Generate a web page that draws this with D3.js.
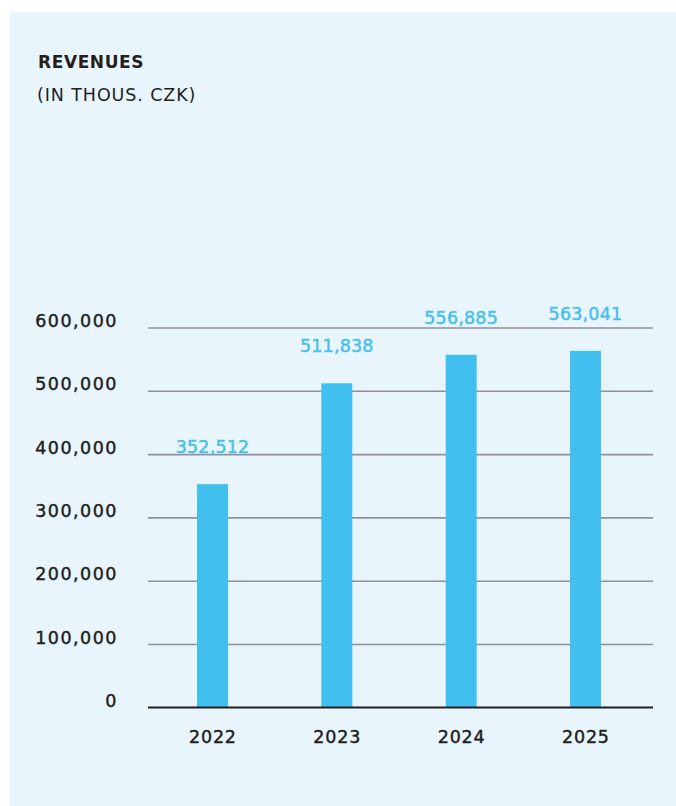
<!DOCTYPE html>
<html>
<head>
<meta charset="utf-8">
<script src="https://cdn.jsdelivr.net/npm/d3@7/dist/d3.min.js"></script>
<style>
  html, body { margin: 0; padding: 0; background: #ffffff; }
  svg { display: block; }
</style>
</head>
<body>
<svg id="chart" width="676" height="806"></svg>
<script>
// Revenues by year, thousands of CZK
const years = ["2022", "2023", "2024", "2025"];
const revenues = [352512, 511838, 556885, 563041];
const yTicks = [0, 100000, 200000, 300000, 400000, 500000, 600000];
const titleText = "REVENUES";
const subtitleText = "(IN THOUS. CZK)";

const W = 676, H = 806;
const plot = { left: 148, right: 653, top: 327.5, bottom: 707.3 };
const font = "'DejaVu Sans', sans-serif";
const barColor = "#41bfee";
const textColor = "#231f20";
const fmt = d3.format(",");

const svg = d3.select("#chart");

// panel background
svg.append("rect")
  .attr("x", 10).attr("y", 12)
  .attr("width", W - 10).attr("height", H - 12)
  .attr("fill", "#e9f5fd");

// heading
svg.append("text")
  .attr("x", 38).attr("y", 67.5)
  .attr("font-family", font).attr("font-weight", "bold")
  .attr("font-size", 17).attr("letter-spacing", 0.6)
  .attr("fill", textColor)
  .text(titleText);
svg.append("text")
  .attr("x", 37).attr("y", 100.5)
  .attr("font-family", font)
  .attr("font-size", 17.5).attr("letter-spacing", 0.9)
  .attr("fill", textColor)
  .text(subtitleText);

const x = d3.scaleBand()
  .domain(years)
  .range([plot.left - 1.5, plot.right - 1.5])
  .paddingInner(0.7507)
  .paddingOuter(0.4064);

const y = d3.scaleLinear()
  .domain([0, 600000])
  .range([plot.bottom, plot.top]);

// horizontal gridlines with value labels
const yAxis = d3.axisLeft(y)
  .tickValues(yTicks)
  .tickFormat(fmt)
  .tickSize(-(plot.right - plot.left))
  .tickPadding(30);

const gy = svg.append("g")
  .attr("transform", `translate(${plot.left},0)`)
  .call(yAxis);
gy.select(".domain").remove();
gy.selectAll(".tick line")
  .attr("stroke", d => d === 0 ? "#231f20" : "#8f9297")
  .attr("stroke-width", 1.6);
gy.selectAll(".tick text")
  .attr("font-family", font)
  .attr("font-size", 17.5)
  .attr("letter-spacing", 1.5)
  .attr("fill", textColor)
  .attr("stroke", textColor)
  .attr("stroke-width", 0.45)
  .attr("dy", "-0.05em");

// bars
svg.append("g").selectAll("rect")
  .data(revenues)
  .join("rect")
  .attr("x", (d, i) => x(years[i]))
  .attr("width", x.bandwidth())
  .attr("y", d => y(d))
  .attr("height", d => y(0) - y(d))
  .attr("fill", barColor);

// redraw baseline over bars
svg.append("line")
  .attr("x1", plot.left).attr("x2", plot.right)
  .attr("y1", y(0)).attr("y2", y(0))
  .attr("stroke", "#231f20").attr("stroke-width", 1.6);

// value labels above bars
svg.append("g").selectAll("text")
  .data(revenues)
  .join("text")
  .attr("x", (d, i) => x(years[i]) + x.bandwidth() / 2)
  .attr("y", d => y(d) - 31)
  .attr("text-anchor", "middle")
  .attr("font-family", font)
  .attr("font-size", 17.5)
  .attr("letter-spacing", 0.2)
  .attr("fill", "#45c0ef")
  .attr("stroke", "#45c0ef")
  .attr("stroke-width", 0.45)
  .text(d => fmt(d));

// year labels
const xAxis = d3.axisBottom(x).tickSize(0).tickPadding(0);
const gx = svg.append("g")
  .attr("transform", `translate(0,${plot.bottom})`)
  .call(xAxis);
gx.select(".domain").remove();
gx.selectAll(".tick text")
  .attr("font-family", font)
  .attr("font-size", 17.5)
  .attr("letter-spacing", 0.8)
  .attr("fill", textColor)
  .attr("stroke", textColor)
  .attr("stroke-width", 0.45)
  .attr("dx", "0.4")
  .attr("dy", null)
  .attr("y", 36);
</script>
</body>
</html>
